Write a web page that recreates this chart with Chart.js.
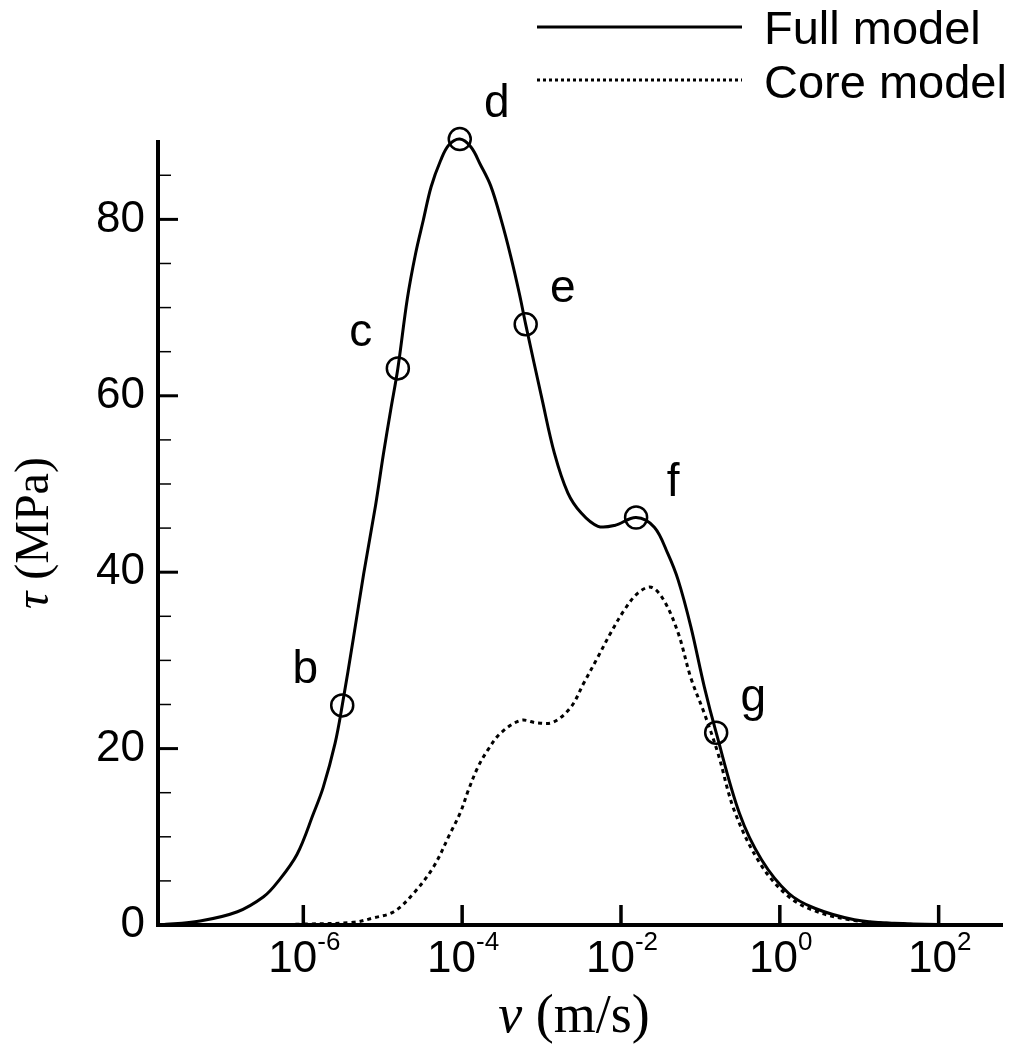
<!DOCTYPE html>
<html>
<head>
<meta charset="utf-8">
<title>Shear stress versus slip velocity</title>
<script src="https://cdn.jsdelivr.net/npm/chart.js@4.4.0/dist/chart.umd.min.js"></script>
<style>
    html, body { margin: 0; padding: 0; background: #fff; }
    canvas { display: block; }
</style>
</head>
<body>
<canvas id="stressChart" width="1020" height="1044"></canvas>
<script>
// Full model: slip velocity v (m/s) and shear stress tau (MPa)
const fullVelocity = [
    1.58e-8, 5.01e-8, 1.48e-7, 3.16e-7, 4.68e-7, 8.32e-7, 1.35e-6, 1.78e-6, 2.51e-6, 3.09e-6,
    4.27e-6, 5.75e-6, 8.13e-6, 1.02e-5, 1.26e-5, 1.55e-5, 2.04e-5, 2.59e-5, 3.24e-5, 4.07e-5,
    5.37e-5, 6.76e-5, 9.33e-5, 1.29e-4, 1.70e-4, 2.29e-4, 3.09e-4, 4.07e-4, 5.25e-4, 6.31e-4,
    1.02e-3, 1.45e-3, 2.14e-3, 3.16e-3, 5.13e-3, 8.32e-3, 1.55e-2, 2.63e-2, 3.89e-2, 5.25e-2,
    7.59e-2, 0.112, 0.158, 0.309, 0.589, 1.29, 2.75, 8.71, 27.5, 195
];
const fullStress = [
    0, 0.45, 1.5, 3.2, 4.8, 8.0, 12.7, 15.6, 20.6, 24.9,
    32.5, 39.8, 47.6, 53.4, 58.4, 63.1, 71.0, 76.1, 79.9, 83.7,
    86.7, 88.4, 89.1, 88.2, 86.2, 83.8, 80.0, 75.9, 71.6, 68.1,
    59.5, 53.5, 49.0, 46.7, 45.2, 45.3, 46.2, 45.1, 42.1, 39.1,
    33.8, 27.0, 21.8, 12.7, 7.4, 3.6, 1.9, 0.6, 0.2, 0
];

// Core model
const coreVelocity = [
    2.51e-7, 1.0e-6, 4.27e-6, 7.59e-6, 1.38e-5, 2.45e-5, 4.37e-5, 7.08e-5, 9.55e-5, 1.20e-4,
    1.58e-4, 2.09e-4, 3.09e-4, 5.50e-4, 8.91e-4, 1.41e-3, 2.34e-3, 3.39e-3, 5.13e-3, 7.41e-3,
    1.10e-2, 1.62e-2, 2.40e-2, 3.47e-2, 5.25e-2, 7.59e-2, 0.112, 0.166, 0.269, 0.562,
    1.26, 2.75, 8.71, 27.5, 100
];
const coreStress = [
    0, 0.1, 0.3, 0.8, 1.5, 3.6, 6.6, 10.4, 12.8, 15.3,
    17.9, 19.8, 21.8, 23.2, 22.9, 23.0, 24.7, 27.4, 30.4, 33.1,
    35.7, 37.6, 38.3, 36.8, 33.1, 28.0, 24.0, 19.5, 12.9, 7.0,
    3.3, 1.6, 0.5, 0.15, 0
];

// Marked states on the full model curve
const stateNames = ['b', 'c', 'd', 'e', 'f', 'g'];
const stateVelocity = [3.09e-6, 1.55e-5, 9.33e-5, 6.31e-4, 1.55e-2, 0.158];
const stateStress = [24.9, 63.1, 89.1, 68.1, 46.2, 21.8];
// which side of the marker each name sits on
const stateSide = [-1, -1, 1, 1, 1, 1];

// Axis ticks
const velocityTicks = [1e-6, 1e-4, 1e-2, 1, 1e2];
const velocityExponents = ['-6', '-4', '-2', '0', '2'];
const stressTicks = [0, 20, 40, 60, 80];
const stressMinorTicks = [5, 10, 15, 25, 30, 35, 45, 50, 55, 65, 70, 75, 85];

const SANS = '"Liberation Sans", Arial, sans-serif';
const SERIF = '"Liberation Serif", "Times New Roman", serif';

function toPoints(xs, ys) {
    return xs.map((v, i) => ({ x: v, y: ys[i] }));
}

function strokeLine(ctx, x1, y1, x2, y2, width, dash) {
    ctx.beginPath();
    ctx.lineWidth = width;
    ctx.setLineDash(dash || []);
    ctx.moveTo(x1, y1);
    ctx.lineTo(x2, y2);
    ctx.stroke();
}

// Axes with inward ticks, power-of-ten labels, titles, state names and legend
const decorations = {
    id: 'decorations',
    afterDatasetsDraw(chart) {
        const { ctx, chartArea: area, scales: { x, y } } = chart;
        ctx.save();
        ctx.fillStyle = '#000';
        ctx.strokeStyle = '#000';

        // axis lines
        strokeLine(ctx, area.left, area.top, area.left, area.bottom + 2, 4);
        strokeLine(ctx, area.left - 2, area.bottom, area.right, area.bottom, 4);

        // ticks
        stressTicks.forEach(v => {
            const py = y.getPixelForValue(v);
            strokeLine(ctx, area.left, py, area.left + 20, py, 3);
        });
        stressMinorTicks.forEach(v => {
            const py = y.getPixelForValue(v);
            strokeLine(ctx, area.left, py, area.left + 13, py, 1.5);
        });
        velocityTicks.forEach(v => {
            const px = x.getPixelForValue(v);
            strokeLine(ctx, px, area.bottom, px, area.bottom - 20, 3.5);
        });

        // 10^n labels
        ctx.textAlign = 'left';
        ctx.textBaseline = 'alphabetic';
        velocityTicks.forEach((v, i) => {
            const px = x.getPixelForValue(v);
            ctx.font = `44px ${SANS}`;
            const wBase = ctx.measureText('10').width;
            ctx.font = `26px ${SANS}`;
            const wExp = ctx.measureText(velocityExponents[i]).width;
            const left = px + 1 - (wBase + wExp) / 2;
            ctx.font = `44px ${SANS}`;
            ctx.fillText('10', left, area.bottom + 47);
            ctx.font = `26px ${SANS}`;
            ctx.fillText(velocityExponents[i], left + wBase, area.bottom + 25);
        });

        // x title: v (m/s)
        ctx.font = `italic 54px ${SERIF}`;
        const wv = ctx.measureText('v').width;
        ctx.font = `54px ${SERIF}`;
        const wrest = ctx.measureText(' (m/s)').width;
        let tx = 574 - (wv + wrest) / 2;
        ctx.font = `italic 54px ${SERIF}`;
        ctx.fillText('v', tx, 1032);
        ctx.font = `54px ${SERIF}`;
        ctx.fillText(' (m/s)', tx + wv, 1032);

        // y title: tau (MPa)
        ctx.save();
        ctx.translate(48, 533);
        ctx.rotate(-Math.PI / 2);
        ctx.font = `italic 48px ${SERIF}`;
        const wt = ctx.measureText('τ').width;
        ctx.font = `48px ${SERIF}`;
        const wm = ctx.measureText(' (MPa)').width;
        tx = -(wt + wm) / 2;
        ctx.font = `italic 48px ${SERIF}`;
        ctx.fillText('τ', tx, 0);
        ctx.font = `48px ${SERIF}`;
        ctx.fillText(' (MPa)', tx + wt, 0);
        ctx.restore();

        // state names next to the markers
        const marks = chart.getDatasetMeta(0).data;
        ctx.font = `46px ${SANS}`;
        ctx.textAlign = 'center';
        marks.forEach((pt, i) => {
            ctx.fillText(stateNames[i], pt.x + stateSide[i] * 37, pt.y - 22);
        });

        // legend
        const full = chart.data.datasets[1];
        const core = chart.data.datasets[2];
        strokeLine(ctx, 537, 27, 742, 27, 3);
        strokeLine(ctx, 537, 80, 742, 80, 3, [3, 3]);
        ctx.setLineDash([]);
        ctx.textAlign = 'left';
        ctx.font = `47px ${SANS}`;
        ctx.fillText(full.label, 764, 44);
        ctx.fillText(core.label, 764, 98);

        ctx.restore();
    }
};

new Chart(document.getElementById('stressChart'), {
    type: 'line',
    data: {
        datasets: [
            {
                label: 'States',
                type: 'scatter',
                data: toPoints(stateVelocity, stateStress),
                showLine: false,
                pointRadius: 11,
                pointBorderWidth: 2.5,
                pointBorderColor: '#000',
                pointBackgroundColor: 'rgba(0,0,0,0)',
                clip: false
            },
            {
                label: 'Full model',
                data: toPoints(fullVelocity, fullStress),
                borderColor: '#000',
                borderWidth: 3,
                pointRadius: 0,
                tension: 0.35,
                clip: false
            },
            {
                label: 'Core model',
                data: toPoints(coreVelocity, coreStress),
                borderColor: '#000',
                borderWidth: 3,
                borderDash: [4, 4],
                pointRadius: 0,
                tension: 0.35,
                clip: false
            }
        ]
    },
    options: {
        responsive: false,
        animation: false,
        layout: { padding: { top: 140, right: 17, left: 0, bottom: 0 } },
        plugins: {
            legend: { display: false },
            tooltip: { enabled: false }
        },
        scales: {
            x: {
                type: 'logarithmic',
                min: 1.48e-8,
                max: 646,
                grid: { display: false, drawTicks: false },
                border: { display: false },
                ticks: { display: false },
                afterBuildTicks: s => { s.ticks = velocityTicks.map(v => ({ value: v })); },
                afterFit: s => { s.height = 119; }
            },
            y: {
                min: 0,
                max: 89,
                grid: { display: false, drawTicks: false },
                border: { display: false },
                ticks: {
                    color: '#000',
                    padding: 13,
                    font: { family: SANS, size: 44 }
                },
                afterBuildTicks: s => { s.ticks = stressTicks.map(v => ({ value: v })); },
                afterFit: s => { s.width = 158; }
            }
        }
    },
    plugins: [decorations]
});
</script>
</body>
</html>
